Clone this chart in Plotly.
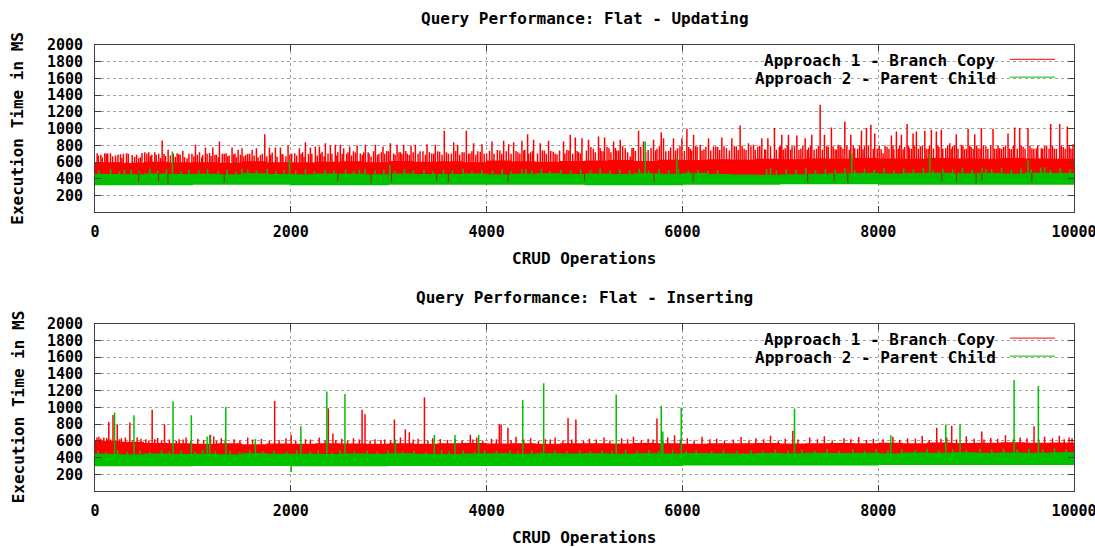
import plotly.graph_objects as go

# ---------------------------------------------------------------------------
# Data: execution time (ms) per CRUD operation, two approaches, two workloads.
# Each series is described by the edges of its dense band (sampled on an
# operation grid) plus the individual samples that rise above / dip below it.
# ---------------------------------------------------------------------------
LABEL_BRANCH = "Approach 1 - Branch Copy"
LABEL_PARENT = "Approach 2 - Parent Child"

TITLE_UPDATING = "Query Performance: Flat - Updating"
TITLE_INSERTING = "Query Performance: Flat - Inserting"
X_TITLE = "CRUD Operations"
Y_TITLE = "Execution Time in MS"

X_TICKS = [0, 2000, 4000, 6000, 8000, 10000]
Y_TICKS = [200, 400, 600, 800, 1000, 1200, 1400, 1600, 1800, 2000]

EDGE_OPS = list(range(0, 10001, 250))    # grid for the upper band edges
FLOOR_OPS = list(range(0, 10001, 1000))  # grid for the lower band edges

# ---- Updating ---------------------------------------------------------------
upd_branch_upper = [
    600, 590, 605, 595, 600, 590, 610, 600, 595, 605,
    610, 600, 615, 605, 610, 600, 620, 610, 605, 615,
    620, 625, 615, 630, 625, 635, 630, 640, 635, 645,
    640, 650, 645, 640, 650, 645, 640, 650, 645, 640,
    645,
]
upd_branch_lower = [420, 425, 420, 425, 425, 430, 430, 430, 430, 430, 430]

upd_parent_upper = [
    460, 455, 465, 458, 462, 455, 468, 460, 456, 464,
    462, 456, 466, 460, 458, 464, 455, 462, 468, 460,
    465, 458, 468, 462, 470, 460, 452, 450, 455, 462,
    468, 472, 465, 470, 475, 468, 472, 466, 474, 470,
    472,
]
upd_parent_lower = [325, 330, 325, 330, 330, 325, 330, 335, 330, 330, 330]

upd_branch_peaks = [
    (22, 708), (100, 708), (158, 708), (260, 695), (322, 708), (447, 648),
    (508, 720), (549, 720), (611, 720), (686, 859), (747, 748), (839, 708),
    (897, 736), (941, 648), (1026, 807), (1067, 720), (1128, 776), (1203, 776),
    (1271, 847), (1339, 708), (1400, 776), (1462, 748), (1502, 767), (1605, 748),
    (1649, 767), (1734, 935), (1782, 776), (1843, 776), (1894, 776), (1972, 799),
    (2040, 708), (2088, 767), (2149, 839), (2200, 776), (2251, 788), (2292, 788),
    (2353, 827), (2404, 799), (2455, 807), (2506, 807), (2540, 767), (2601, 788),
    (2677, 799), (2762, 807), (2820, 667), (2864, 807), (2942, 788), (3017, 827),
    (3085, 807), (3153, 807), (3228, 799), (3272, 807), (3391, 815), (3476, 807),
    (3568, 975), (3664, 839), (3704, 807), (3793, 975), (3867, 827), (3953, 815),
    (4055, 847), (4174, 855), (4225, 815), (4276, 839), (4361, 855), (4419, 935),
    (4480, 867), (4548, 827), (4633, 855), (4719, 695), (4786, 847), (4855, 927),
    (4906, 895), (4974, 887), (5041, 867), (5143, 907), (5205, 895), (5297, 847),
    (5365, 867), (5416, 767), (5467, 667), (5552, 975), (5603, 847), (5705, 867),
    (5784, 959), (5807, 887), (5909, 887), (5995, 887), (6046, 999), (6114, 927),
    (6182, 807), (6267, 887), (6318, 788), (6403, 895), (6505, 887), (6590, 1039),
    (6675, 827), (6726, 807), (6811, 887), (6873, 887), (6940, 1007), (7015, 927),
    (7083, 927), (7169, 919), (7254, 887), (7322, 927), (7407, 1287), (7451, 927),
    (7522, 1015), (7591, 807), (7659, 1087), (7720, 927), (7829, 975), (7880, 1007),
    (7925, 1047), (7965, 943), (8050, 708), (8135, 919), (8186, 967), (8237, 927),
    (8295, 1055), (8356, 943), (8390, 967), (8476, 975), (8543, 987), (8594, 967),
    (8645, 987), (8731, 827), (8798, 935), (8850, 807), (8918, 999), (8986, 935),
    (9054, 1007), (9173, 999), (9241, 767), (9326, 943), (9394, 1015), (9445, 1007),
    (9530, 1007), (9615, 767), (9666, 767), (9762, 1055), (9854, 1055), (9932, 1027),
    (9990, 815),
]
upd_branch_bursts = [
    (60, 690), (130, 705), (210, 680), (290, 700), (380, 685), (480, 710),
    (580, 690), (650, 700), (720, 675), (800, 705), (870, 690), (990, 700),
    (1100, 685), (1170, 710), (1240, 690), (1300, 700), (1370, 680), (1430, 705),
    (1540, 690), (1580, 700), (1690, 685), (1810, 715), (1920, 690), (2010, 700),
    (2120, 720), (2180, 700), (2320, 725), (2380, 705), (2480, 720), (2570, 700),
    (2640, 730), (2710, 705), (2790, 720), (2900, 700), (2980, 735), (3050, 705),
    (3120, 720), (3190, 700), (3320, 730), (3440, 705), (3520, 725), (3610, 700),
    (3750, 720), (3830, 705), (3910, 730), (4000, 700), (4110, 745), (4320, 720),
    (4390, 750), (4450, 720), (4590, 740), (4680, 725), (4820, 745), (4940, 720),
    (5090, 760), (5170, 735), (5250, 765), (5330, 740), (5500, 770), (5650, 745),
    (5740, 760), (5860, 735), (5950, 765), (6080, 760), (6150, 785), (6220, 755),
    (6360, 780), (6450, 765), (6550, 790), (6630, 760), (6770, 785), (6840, 755),
    (6990, 780), (7050, 765), (7120, 790), (7210, 760), (7290, 775), (7370, 760),
    (7490, 785), (7560, 755), (7620, 780), (7760, 765), (7860, 790), (7990, 760),
    (8090, 785), (8160, 755), (8270, 780), (8320, 765), (8430, 790), (8510, 760),
    (8620, 780), (8690, 765), (8760, 790), (8880, 755), (8950, 780), (9020, 765),
    (9100, 790), (9210, 760), (9280, 780), (9360, 755), (9480, 785), (9570, 765),
    (9700, 790), (9800, 760), (9890, 780), (9960, 765),
]
upd_branch_chatter = [
    (35, 680), (75, 660), (115, 700), (180, 670), (235, 690), (275, 650),
    (340, 700), (405, 665), (425, 690), (465, 660), (530, 705), (565, 675),
    (625, 690), (670, 650), (705, 700), (770, 680), (820, 665), (855, 695),
    (915, 660), (960, 700), (1010, 670), (1045, 690), (1090, 660), (1145, 700),
    (1185, 675), (1225, 690), (1260, 660), (1320, 700), (1355, 670), (1415, 695),
    (1445, 660), (1485, 690), (1520, 670), (1560, 700), (1625, 680), (1665, 660),
    (1710, 700), (1755, 670), (1795, 690), (1860, 665), (1910, 700), (1950, 670),
    (1990, 690), (2060, 680), (2105, 700), (2135, 665), (2215, 700), (2270, 680),
    (2305, 705), (2340, 670), (2420, 700), (2470, 680),
    (2525, 700), (2585, 720), (2620, 680), (2660, 715), (2730, 690), (2745, 720),
    (2800, 700), (2845, 730), (2885, 690), (2925, 720), (2960, 700), (3000, 730),
    (3065, 690), (3105, 720), (3135, 700), (3175, 735), (3210, 690), (3250, 720),
    (3300, 700), (3350, 730), (3375, 690), (3415, 720), (3460, 700), (3500, 730),
    (3545, 690), (3590, 720), (3640, 705), (3685, 735), (3725, 690), (3770, 720),
    (3815, 700), (3850, 730), (3890, 690), (3935, 725), (3975, 700), (4030, 735),
    (4075, 700), (4135, 740), (4155, 700), (4200, 730), (4250, 700), (4300, 735),
    (4340, 705), (4380, 740), (4430, 700), (4470, 735), (4520, 705), (4570, 740),
    (4610, 700), (4655, 735), (4700, 705), (4745, 740), (4800, 705), (4840, 740),
    (4880, 700), (4925, 735), (4960, 705),
    (5020, 740), (5065, 780), (5110, 720), (5160, 770), (5190, 730), (5230, 780),
    (5270, 720), (5315, 770), (5350, 740), (5390, 790), (5440, 720), (5485, 770),
    (5520, 735), (5575, 780), (5625, 720), (5680, 770), (5725, 740), (5765, 790),
    (5830, 730), (5880, 775), (5930, 740), (5975, 790), (6020, 735), (6065, 780),
    (6095, 740), (6135, 790), (6200, 740), (6240, 785), (6290, 740), (6340, 790),
    (6380, 745), (6425, 790), (6480, 740), (6530, 790), (6570, 745), (6610, 795),
    (6650, 745), (6700, 790), (6745, 750), (6790, 795), (6850, 745), (6900, 790),
    (6960, 750), (7000, 795), (7030, 750), (7070, 795), (7105, 750), (7145, 795),
    (7190, 750), (7230, 795), (7275, 750), (7310, 795), (7345, 750), (7390, 795),
    (7430, 750), (7475, 795),
    (7540, 790), (7575, 750), (7610, 800), (7640, 760), (7680, 800), (7705, 750),
    (7745, 800), (7790, 760), (7810, 800), (7845, 755), (7900, 800), (7950, 760),
    (8010, 800), (8030, 755), (8070, 800), (8110, 760), (8150, 800), (8205, 760),
    (8220, 800), (8255, 755), (8310, 800), (8340, 760), (8370, 800), (8410, 760),
    (8450, 800), (8490, 760), (8525, 800), (8565, 760), (8610, 800), (8660, 760),
    (8710, 800), (8745, 760), (8780, 800), (8815, 760), (8865, 800), (8900, 760),
    (8935, 800), (8970, 760), (9005, 800), (9040, 760), (9075, 800), (9120, 760),
    (9150, 800), (9190, 760), (9225, 800), (9260, 760), (9300, 800), (9340, 760),
    (9380, 800), (9420, 760), (9460, 800), (9500, 760), (9550, 800), (9590, 760),
    (9630, 800), (9680, 760), (9720, 800), (9745, 760), (9780, 800), (9820, 760),
    (9870, 800), (9910, 760), (9950, 800), (9980, 760),
]
upd_branch_dips = [
    (447, 360), (650, 370), (745, 350), (1320, 360), (2480, 370), (2820, 350),
    (3029, 360), (3490, 380), (3609, 355), (4220, 360), (5000, 370), (5710, 360),
    (6110, 370), (7280, 360), (7550, 365), (7690, 355), (8650, 370), (8800, 360),
    (9000, 350), (9060, 380), (9570, 360),
]
upd_parent_peaks = [
    (300, 510), (790, 727), (1500, 520), (1986, 628), (2700, 510), (3010, 568),
    (4400, 520), (5620, 847), (5943, 648), (6900, 530), (7730, 708), (8527, 708),
    (9100, 520), (9530, 620), (9700, 540),
]
upd_parent_chatter = [
    (40, 500), (160, 520), (250, 490), (370, 510), (450, 495), (560, 525),
    (640, 500), (730, 515), (880, 490), (960, 510), (1060, 500), (1150, 520),
    (1260, 495), (1350, 510), (1440, 490), (1560, 515), (1650, 500), (1760, 520),
    (1850, 495), (1930, 510), (2050, 500), (2150, 520), (2240, 490), (2350, 510),
    (2440, 500), (2560, 515), (2640, 495), (2760, 520), (2860, 500), (2950, 510),
    (3060, 495), (3160, 520), (3250, 500), (3360, 515), (3450, 490), (3560, 510),
    (3650, 500), (3760, 520), (3850, 495), (3950, 510), (4060, 500), (4160, 520),
    (4250, 495), (4360, 515), (4460, 500), (4560, 520), (4650, 495), (4760, 510),
    (4860, 500), (4960, 520), (5060, 505), (5160, 525), (5260, 500), (5360, 515),
    (5460, 505), (5560, 525), (5660, 500), (5760, 520), (5860, 505), (5960, 520),
    (6060, 500), (6160, 510), (6260, 495), (6360, 505), (6860, 515), (6960, 500),
    (7060, 520), (7160, 510), (7260, 530), (7360, 505), (7460, 520), (7560, 510),
    (7660, 530), (7760, 505), (7860, 525), (7960, 510), (8060, 530), (8160, 505),
    (8260, 525), (8360, 515), (8460, 530), (8560, 505), (8660, 525), (8760, 515),
    (8860, 530), (8960, 510), (9060, 525), (9160, 515), (9260, 530), (9360, 510),
    (9460, 525), (9560, 515), (9660, 535), (9760, 510), (9860, 530), (9960, 515),
]

# ---- Inserting --------------------------------------------------------------
ins_branch_upper = [
    600, 590, 575, 570, 565, 570, 560, 568, 565, 570,
    568, 565, 572, 566, 570, 575, 568, 572, 566, 570,
    572, 568, 575, 570, 565, 572, 570, 575, 568, 572,
    575, 570, 578, 572, 580, 575, 578, 582, 576, 580,
    582,
]
ins_branch_lower = [420, 420, 420, 420, 425, 425, 425, 430, 430, 430, 430]

ins_parent_upper = [
    445, 440, 448, 442, 446, 440, 450, 444, 446, 442,
    448, 444, 450, 446, 442, 448, 450, 445, 452, 448,
    450, 446, 452, 448, 455, 450, 448, 454, 450, 456,
    455, 458, 452, 460, 456, 462, 458, 460, 456, 462,
    460,
]
ins_parent_lower = [295, 300, 295, 300, 300, 300, 305, 305, 310, 310, 310]

ins_branch_peaks = [
    (141, 825), (184, 908), (227, 799), (356, 819), (584, 972), (710, 797),
    (1179, 671), (1213, 651), (1835, 1077), (2004, 669), (2383, 988), (2430, 688),
    (2728, 972), (2758, 919), (2959, 615), (3058, 855), (3170, 739), (3211, 703),
    (3365, 1120), (3527, 623), (3834, 671), (4130, 799), (4148, 799), (4218, 757),
    (4832, 872), (4912, 855), (5740, 867), (5920, 667), (7128, 719), (8598, 755),
    (8751, 779), (9058, 711), (9592, 775),
]
ins_branch_bursts = [
    (40, 650), (90, 640), (270, 630), (430, 640), (520, 620), (640, 635),
    (860, 620), (930, 640), (1050, 625), (1290, 630), (1420, 620), (1560, 640),
    (1700, 625), (1950, 630), (2150, 620), (2290, 640), (2520, 625), (2640, 630),
    (2860, 620), (3120, 640), (3300, 625), (3450, 630), (3680, 620), (3900, 640),
    (4050, 625), (4300, 650), (4450, 630), (4600, 620), (4700, 640), (5050, 625),
    (5200, 640), (5380, 630), (5500, 650), (5650, 625), (5850, 640), (6050, 630),
    (6200, 650), (6350, 625), (6600, 645), (6750, 630), (6900, 660), (7050, 625),
    (7300, 640), (7450, 655), (7650, 630), (7800, 645), (7950, 625), (8150, 650),
    (8300, 630), (8450, 660), (8700, 640), (8900, 655), (9150, 635), (9300, 665),
    (9450, 640), (9700, 650), (9850, 660), (9950, 640),
]
ins_branch_chatter = [
    (20, 640), (60, 625), (120, 635), (160, 615), (250, 620), (310, 640),
    (390, 610), (470, 625), (550, 605), (610, 620), (680, 600), (760, 615),
    (830, 600), (900, 615), (980, 600), (1110, 610), (1240, 600), (1330, 615),
    (1480, 605), (1610, 615), (1780, 600), (1880, 610), (2050, 600), (2200, 615),
    (2350, 605), (2460, 610), (2580, 600), (2700, 615), (2810, 605), (2920, 610),
    (3020, 600), (3250, 615), (3400, 605), (3600, 610), (3750, 600), (3860, 615),
    (3960, 605), (4100, 620), (4250, 605), (4380, 615), (4530, 600), (4650, 615),
    (4780, 605), (4870, 615), (4990, 600), (5120, 615), (5260, 605), (5440, 620),
    (5580, 605), (5700, 615), (5800, 600), (5980, 615), (6120, 605), (6280, 620),
    (6430, 605), (6520, 615), (6680, 605), (6830, 620), (6980, 605), (7180, 615),
    (7380, 620), (7530, 605), (7720, 620), (7880, 610), (8050, 620), (8220, 610),
    (8380, 625), (8520, 610), (8640, 625), (8800, 615), (8980, 625), (9080, 615),
    (9220, 625), (9380, 615), (9520, 630), (9640, 615), (9780, 630), (9900, 620),
    (9980, 630),
]
ins_parent_peaks = [
    (200, 938), (398, 905), (797, 1072), (984, 905), (1145, 651), (1172, 667),
    (1336, 1004), (1638, 623), (2103, 775), (2368, 1188), (2553, 1160), (3068, 616),
    (3466, 669), (3677, 669), (3919, 669), (4369, 1088), (4583, 1288), (5324, 1155),
    (5784, 1018), (5800, 711), (5988, 999), (7145, 987), (8129, 667), (8690, 795),
    (8836, 795), (9388, 1326), (9636, 1254),
]
ins_parent_chatter = [
    (30, 480), (110, 470), (230, 490), (330, 470), (460, 485), (560, 470),
    (680, 490), (760, 475), (880, 485), (1020, 470), (1100, 490), (1230, 475),
    (1380, 485), (1480, 470), (1580, 490), (1720, 475), (1830, 485), (1960, 470),
    (2060, 490), (2200, 475), (2280, 485), (2420, 470), (2500, 490), (2650, 475),
    (2780, 485), (2880, 470), (2990, 490), (3140, 475), (3260, 485), (3380, 470),
    (3540, 490), (3620, 475), (3760, 485), (3880, 470), (3980, 490), (4100, 480),
    (4240, 490), (4320, 475), (4460, 485), (4560, 470), (4700, 490), (4820, 475),
    (4950, 485), (5060, 475), (5180, 490), (5280, 480), (5420, 495), (5540, 480),
    (5660, 490), (5760, 480), (5900, 495), (6040, 480), (6140, 490), (6300, 480),
    (6420, 495), (6560, 480), (6700, 490), (6820, 485), (6950, 495), (7080, 480),
    (7220, 495), (7350, 485), (7480, 500), (7600, 485), (7740, 495), (7860, 485),
    (7980, 500), (8100, 490), (8240, 500), (8380, 490), (8500, 505), (8620, 490),
    (8760, 500), (8900, 490), (9040, 505), (9160, 495), (9280, 505), (9420, 495),
    (9540, 505), (9680, 495), (9800, 510), (9920, 500),
]
ins_parent_dips = [(2004, 228)]

# ---------------------------------------------------------------------------
RED = "#ff0000"
GREEN = "#00c000"
RED_DIP = "#b01800"
FONT = "DejaVu Sans Mono"
INK = "#000000"
FRAME = "#404040"
STROKE = 1.5

fig = go.Figure()


def add_band(xa, ya, upper, lower, color):
    """Dense body of a series: filled region between its lower and upper edge."""
    fig.add_trace(go.Scatter(
        x=FLOOR_OPS, y=lower, mode="lines", xaxis=xa, yaxis=ya,
        line=dict(width=0, shape="hv", color=color),
        showlegend=False, hoverinfo="skip"))
    fig.add_trace(go.Scatter(
        x=EDGE_OPS, y=upper, mode="lines", xaxis=xa, yaxis=ya,
        line=dict(width=0, shape="hv", color=color),
        fill="tonexty", fillcolor=color,
        showlegend=False, hoverinfo="skip"))


def add_strokes(xa, ya, points, base, color, width=STROKE):
    """Single samples outside the band, drawn as vertical strokes from it."""
    xs, ys = [], []
    for op, ms in points:
        xs += [op, op, None]
        ys += [base, ms, None]
    fig.add_trace(go.Scatter(
        x=xs, y=ys, mode="lines", xaxis=xa, yaxis=ya,
        line=dict(width=width, color=color),
        showlegend=False, hoverinfo="skip", connectgaps=False))


# Updating panel (top)
add_band("x", "y", upd_branch_upper, upd_branch_lower, RED)
add_strokes("x", "y", upd_branch_chatter, 500, RED)
add_strokes("x", "y", upd_branch_bursts, 500, RED)
add_strokes("x", "y", upd_branch_peaks, 500, RED)
add_band("x", "y", upd_parent_upper, upd_parent_lower, GREEN)
add_strokes("x", "y", upd_parent_chatter, 400, GREEN)
add_strokes("x", "y", upd_parent_peaks, 400, GREEN)
add_strokes("x", "y", upd_branch_dips, 470, RED_DIP, 1.0)

# Inserting panel (bottom)
add_band("x2", "y2", ins_branch_upper, ins_branch_lower, RED)
add_strokes("x2", "y2", ins_branch_chatter, 500, RED)
add_strokes("x2", "y2", ins_branch_bursts, 500, RED)
add_strokes("x2", "y2", ins_branch_peaks, 500, RED)
add_band("x2", "y2", ins_parent_upper, ins_parent_lower, GREEN)
add_strokes("x2", "y2", ins_parent_chatter, 400, GREEN)
add_strokes("x2", "y2", ins_parent_peaks, 400, GREEN)
add_strokes("x2", "y2", ins_parent_dips, 350, GREEN)

W, H = 1095, 547
ML, MR = 95, 21
PW = W - ML - MR


def px_x(px):
    return (px - ML) / PW


def px_y(py):
    return 1 - py / H


tick_font = dict(family=FONT, size=15, color=INK, weight="bold")

x_common = dict(
    range=[0, 10000], tickvals=X_TICKS, ticktext=[str(v) for v in X_TICKS],
    showline=True, linecolor=FRAME, linewidth=1, mirror="ticks",
    ticks="inside", ticklen=6, tickcolor=FRAME,
    showgrid=True, gridcolor="#a0a0a0", griddash="3px,3px", gridwidth=1,
    zeroline=False, tickfont=tick_font, ticklabelstandoff=6,
    ticklabeloverflow="allow",
    automargin=False, fixedrange=True,
)
y_common = dict(
    range=[0, 2000], tickvals=Y_TICKS, ticktext=[str(v) for v in Y_TICKS],
    showline=True, linecolor=FRAME, linewidth=1, mirror="ticks",
    ticks="inside", ticklen=6, tickcolor=FRAME,
    showgrid=True, gridcolor="#a0a0a0", griddash="3px,3px", gridwidth=1,
    zeroline=False, tickfont=tick_font, ticklabelstandoff=8,
    automargin=False, fixedrange=True,
)

top_dom = [px_y(212.4), px_y(45)]
bot_dom = [px_y(491), px_y(323.7)]

fig.update_layout(
    width=W, height=H,
    margin=dict(l=ML, r=MR, t=0, b=0, pad=0),
    paper_bgcolor="white", plot_bgcolor="white",
    template="none", showlegend=False,
    font=dict(family=FONT, size=16, color=INK),
    xaxis=dict(x_common, domain=[0, 1], anchor="y"),
    yaxis=dict(y_common, domain=top_dom, anchor="x"),
    xaxis2=dict(x_common, domain=[0, 1], anchor="y2"),
    yaxis2=dict(y_common, domain=bot_dom, anchor="x2"),
)

label_font = dict(family=FONT, size=16, color=INK, weight="bold")
annotations = []
shapes = []

for title, title_py, xt_py, dom, key_rows in [
    (TITLE_UPDATING, 18, 258, top_dom, (60.5, 78.3)),
    (TITLE_INSERTING, 297, 537, bot_dom, (339.3, 357.3)),
]:
    annotations.append(dict(text=title, x=0.5, y=px_y(title_py), xref="paper", yref="paper",
                            xanchor="center", yanchor="middle", showarrow=False, font=label_font))
    annotations.append(dict(text=X_TITLE, x=0.5, y=px_y(xt_py), xref="paper", yref="paper",
                            xanchor="center", yanchor="middle", showarrow=False, font=label_font))
    annotations.append(dict(text=Y_TITLE, x=px_x(18), y=(dom[0] + dom[1]) / 2,
                            xref="paper", yref="paper", textangle=-90,
                            xanchor="center", yanchor="middle", showarrow=False, font=label_font))
    # key: blank area, labels right-aligned, line samples to their right
    shapes.append(dict(type="rect", xref="paper", yref="paper", layer="between",
                       x0=px_x(752), x1=px_x(1064),
                       y0=px_y(key_rows[1] + 9), y1=px_y(key_rows[0] - 10),
                       fillcolor="white", line=dict(width=0)))
    for (label, color), row_py in zip([(LABEL_BRANCH, RED), (LABEL_PARENT, GREEN)], key_rows):
        annotations.append(dict(text=label, x=px_x(998), y=px_y(row_py), xref="paper", yref="paper",
                                xanchor="right", yanchor="middle", showarrow=False, font=label_font))
        shapes.append(dict(type="line", xref="paper", yref="paper", layer="above",
                           x0=px_x(1010), x1=px_x(1055), y0=px_y(row_py - 1.2), y1=px_y(row_py - 1.2),
                           line=dict(color=color, width=1)))

fig.update_layout(annotations=annotations, shapes=shapes)

fig.write_html("out.html")
